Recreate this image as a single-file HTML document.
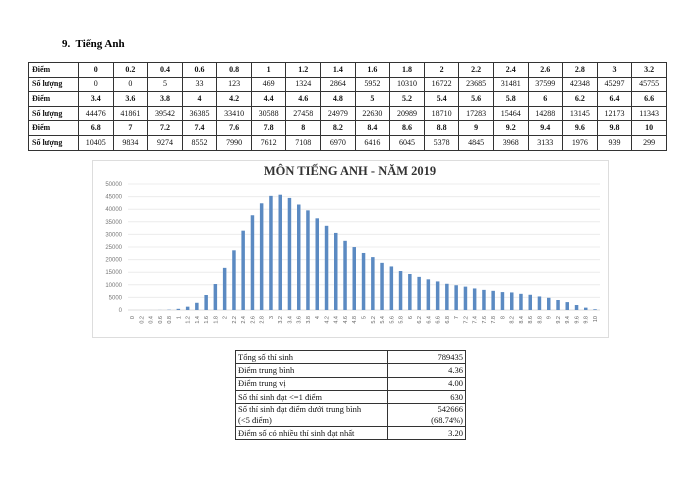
<!DOCTYPE html>
<html><head><meta charset="utf-8"><style>
body{margin:0;background:#fff;width:700px;height:493px;position:relative;overflow:hidden;font-family:"Liberation Serif",serif;}
.t{position:absolute;border-collapse:collapse;table-layout:fixed;font-size:8px;color:#111}
.t td{border:1px solid #333;text-align:center;padding:0;height:13.6px;line-height:10px}
.t tr:nth-child(odd) td{font-weight:bold}
.t td:first-child{text-align:left;padding-left:3px;font-weight:bold}
.s{position:absolute;left:235px;top:350px;width:231px;border-collapse:collapse;font-size:8.5px;color:#111}
.s td{border:1px solid #333;padding:0 2px;height:12.3px;line-height:11px}
.s td:last-child{text-align:right}
</style></head><body>
<div style="position:absolute;left:62px;top:38px;font-size:11px;font-weight:bold">9.&nbsp; Tiếng Anh</div>
<table class="t" style="left:28px;top:62px;width:639px">
<colgroup><col style="width:50px"><col span="17"></colgroup>
<tr><td>Điểm</td><td>0</td><td>0.2</td><td>0.4</td><td>0.6</td><td>0.8</td><td>1</td><td>1.2</td><td>1.4</td><td>1.6</td><td>1.8</td><td>2</td><td>2.2</td><td>2.4</td><td>2.6</td><td>2.8</td><td>3</td><td>3.2</td></tr>
<tr><td>Số lượng</td><td>0</td><td>0</td><td>5</td><td>33</td><td>123</td><td>469</td><td>1324</td><td>2864</td><td>5952</td><td>10310</td><td>16722</td><td>23685</td><td>31481</td><td>37599</td><td>42348</td><td>45297</td><td>45755</td></tr>
<tr><td>Điểm</td><td>3.4</td><td>3.6</td><td>3.8</td><td>4</td><td>4.2</td><td>4.4</td><td>4.6</td><td>4.8</td><td>5</td><td>5.2</td><td>5.4</td><td>5.6</td><td>5.8</td><td>6</td><td>6.2</td><td>6.4</td><td>6.6</td></tr>
<tr><td>Số lượng</td><td>44476</td><td>41861</td><td>39542</td><td>36385</td><td>33410</td><td>30588</td><td>27458</td><td>24979</td><td>22630</td><td>20989</td><td>18710</td><td>17283</td><td>15464</td><td>14288</td><td>13145</td><td>12173</td><td>11343</td></tr>
<tr><td>Điểm</td><td>6.8</td><td>7</td><td>7.2</td><td>7.4</td><td>7.6</td><td>7.8</td><td>8</td><td>8.2</td><td>8.4</td><td>8.6</td><td>8.8</td><td>9</td><td>9.2</td><td>9.4</td><td>9.6</td><td>9.8</td><td>10</td></tr>
<tr><td>Số lượng</td><td>10405</td><td>9834</td><td>9274</td><td>8552</td><td>7990</td><td>7612</td><td>7108</td><td>6970</td><td>6416</td><td>6045</td><td>5378</td><td>4845</td><td>3968</td><td>3133</td><td>1976</td><td>939</td><td>299</td></tr>
</table>
<svg style="position:absolute;left:0;top:0" width="700" height="493">
<rect x="92.5" y="160.5" width="516" height="177" fill="none" stroke="#ddd"/>
<text x="350" y="175" text-anchor="middle" font-size="12.5" font-weight="bold" fill="#333">MÔN TIẾNG ANH - NĂM 2019</text>
<g stroke="#ececec" stroke-width="1">
<line x1="128" x2="600" y1="184" y2="184"/><line x1="128" x2="600" y1="196.6" y2="196.6"/><line x1="128" x2="600" y1="209.2" y2="209.2"/><line x1="128" x2="600" y1="221.8" y2="221.8"/><line x1="128" x2="600" y1="234.4" y2="234.4"/><line x1="128" x2="600" y1="247" y2="247"/><line x1="128" x2="600" y1="259.6" y2="259.6"/><line x1="128" x2="600" y1="272.2" y2="272.2"/><line x1="128" x2="600" y1="284.8" y2="284.8"/><line x1="128" x2="600" y1="297.4" y2="297.4"/><line x1="128" x2="600" y1="310" y2="310" stroke="#ddd"/>
</g>
<g font-family="Liberation Sans,sans-serif" font-size="6" fill="#777" text-anchor="end">
<text x="122" y="186">50000</text><text x="122" y="198.6">45000</text><text x="122" y="211.2">40000</text><text x="122" y="223.8">35000</text><text x="122" y="236.4">30000</text><text x="122" y="249">25000</text><text x="122" y="261.6">20000</text><text x="122" y="274.2">15000</text><text x="122" y="286.8">10000</text><text x="122" y="299.4">5000</text><text x="122" y="312">0</text>
</g>
<g transform="translate(0,310) scale(1,-1)" fill="#5b8ac2">
<rect x="130.3" y="0" width="3.5" height="0"/><rect x="139.6" y="0" width="3.5" height="0"/><rect x="148.8" y="0" width="3.5" height="0.01"/><rect x="158.1" y="0" width="3.5" height="0.08"/><rect x="167.3" y="0" width="3.5" height="0.31"/><rect x="176.6" y="0" width="3.5" height="1.18"/><rect x="185.9" y="0" width="3.5" height="3.34"/><rect x="195.1" y="0" width="3.5" height="7.22"/><rect x="204.4" y="0" width="3.5" height="15"/><rect x="213.6" y="0" width="3.5" height="25.98"/><rect x="222.9" y="0" width="3.5" height="42.14"/><rect x="232.2" y="0" width="3.5" height="59.69"/><rect x="241.4" y="0" width="3.5" height="79.33"/><rect x="250.7" y="0" width="3.5" height="94.75"/><rect x="259.9" y="0" width="3.5" height="106.72"/><rect x="269.2" y="0" width="3.5" height="114.15"/><rect x="278.5" y="0" width="3.5" height="115.3"/><rect x="287.7" y="0" width="3.5" height="112.08"/><rect x="297" y="0" width="3.5" height="105.49"/><rect x="306.2" y="0" width="3.5" height="99.65"/><rect x="315.5" y="0" width="3.5" height="91.69"/><rect x="324.8" y="0" width="3.5" height="84.19"/><rect x="334" y="0" width="3.5" height="77.08"/><rect x="343.3" y="0" width="3.5" height="69.19"/><rect x="352.5" y="0" width="3.5" height="62.95"/><rect x="361.8" y="0" width="3.5" height="57.03"/><rect x="371.1" y="0" width="3.5" height="52.89"/><rect x="380.3" y="0" width="3.5" height="47.15"/><rect x="389.6" y="0" width="3.5" height="43.55"/><rect x="398.8" y="0" width="3.5" height="38.97"/><rect x="408.1" y="0" width="3.5" height="36.01"/><rect x="417.4" y="0" width="3.5" height="33.13"/><rect x="426.6" y="0" width="3.5" height="30.68"/><rect x="435.9" y="0" width="3.5" height="28.58"/><rect x="445.1" y="0" width="3.5" height="26.22"/><rect x="454.4" y="0" width="3.5" height="24.78"/><rect x="463.7" y="0" width="3.5" height="23.37"/><rect x="472.9" y="0" width="3.5" height="21.55"/><rect x="482.2" y="0" width="3.5" height="20.13"/><rect x="491.4" y="0" width="3.5" height="19.18"/><rect x="500.7" y="0" width="3.5" height="17.91"/><rect x="510" y="0" width="3.5" height="17.56"/><rect x="519.2" y="0" width="3.5" height="16.17"/><rect x="528.5" y="0" width="3.5" height="15.23"/><rect x="537.7" y="0" width="3.5" height="13.55"/><rect x="547" y="0" width="3.5" height="12.21"/><rect x="556.3" y="0" width="3.5" height="10"/><rect x="565.5" y="0" width="3.5" height="7.9"/><rect x="574.8" y="0" width="3.5" height="4.98"/><rect x="584" y="0" width="3.5" height="2.37"/><rect x="593.3" y="0" width="3.5" height="0.75"/>
</g>
<g font-family="Liberation Sans,sans-serif" font-size="5.5" fill="#666" text-anchor="end">
<text transform="translate(134,316) rotate(-90)">0</text><text transform="translate(143.3,316) rotate(-90)">0.2</text><text transform="translate(152.5,316) rotate(-90)">0.4</text><text transform="translate(161.8,316) rotate(-90)">0.6</text><text transform="translate(171,316) rotate(-90)">0.8</text><text transform="translate(180.3,316) rotate(-90)">1</text><text transform="translate(189.6,316) rotate(-90)">1.2</text><text transform="translate(198.8,316) rotate(-90)">1.4</text><text transform="translate(208.1,316) rotate(-90)">1.6</text><text transform="translate(217.3,316) rotate(-90)">1.8</text><text transform="translate(226.6,316) rotate(-90)">2</text><text transform="translate(235.9,316) rotate(-90)">2.2</text><text transform="translate(245.1,316) rotate(-90)">2.4</text><text transform="translate(254.4,316) rotate(-90)">2.6</text><text transform="translate(263.6,316) rotate(-90)">2.8</text><text transform="translate(272.9,316) rotate(-90)">3</text><text transform="translate(282.2,316) rotate(-90)">3.2</text><text transform="translate(291.4,316) rotate(-90)">3.4</text><text transform="translate(300.7,316) rotate(-90)">3.6</text><text transform="translate(309.9,316) rotate(-90)">3.8</text><text transform="translate(319.2,316) rotate(-90)">4</text><text transform="translate(328.5,316) rotate(-90)">4.2</text><text transform="translate(337.7,316) rotate(-90)">4.4</text><text transform="translate(347,316) rotate(-90)">4.6</text><text transform="translate(356.2,316) rotate(-90)">4.8</text><text transform="translate(365.5,316) rotate(-90)">5</text><text transform="translate(374.8,316) rotate(-90)">5.2</text><text transform="translate(384,316) rotate(-90)">5.4</text><text transform="translate(393.3,316) rotate(-90)">5.6</text><text transform="translate(402.5,316) rotate(-90)">5.8</text><text transform="translate(411.8,316) rotate(-90)">6</text><text transform="translate(421.1,316) rotate(-90)">6.2</text><text transform="translate(430.3,316) rotate(-90)">6.4</text><text transform="translate(439.6,316) rotate(-90)">6.6</text><text transform="translate(448.8,316) rotate(-90)">6.8</text><text transform="translate(458.1,316) rotate(-90)">7</text><text transform="translate(467.4,316) rotate(-90)">7.2</text><text transform="translate(476.6,316) rotate(-90)">7.4</text><text transform="translate(485.9,316) rotate(-90)">7.6</text><text transform="translate(495.1,316) rotate(-90)">7.8</text><text transform="translate(504.4,316) rotate(-90)">8</text><text transform="translate(513.7,316) rotate(-90)">8.2</text><text transform="translate(522.9,316) rotate(-90)">8.4</text><text transform="translate(532.2,316) rotate(-90)">8.6</text><text transform="translate(541.4,316) rotate(-90)">8.8</text><text transform="translate(550.7,316) rotate(-90)">9</text><text transform="translate(560,316) rotate(-90)">9.2</text><text transform="translate(569.2,316) rotate(-90)">9.4</text><text transform="translate(578.5,316) rotate(-90)">9.6</text><text transform="translate(587.7,316) rotate(-90)">9.8</text><text transform="translate(597,316) rotate(-90)">10</text>
</g>
</svg>
<table class="s">
<colgroup><col style="width:152px"><col></colgroup>
<tr><td>Tổng số thí sinh</td><td>789435</td></tr>
<tr><td>Điểm trung bình</td><td>4.36</td></tr>
<tr><td>Điểm trung vị</td><td>4.00</td></tr>
<tr><td>Số thí sinh đạt &lt;=1 điểm</td><td>630</td></tr>
<tr><td>Số thí sinh đạt điểm dưới trung bình<br>(&lt;5 điểm)</td><td>542666<br>(68.74%)</td></tr>
<tr><td>Điểm số có nhiều thí sinh đạt nhất</td><td>3.20</td></tr>
</table>
</body></html>
